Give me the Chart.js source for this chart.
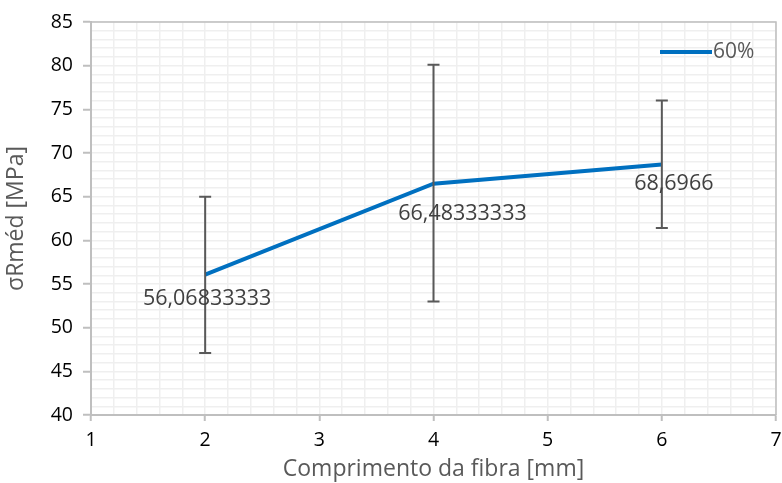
<!DOCTYPE html>
<html>
<head>
<meta charset="utf-8">
<script src="https://cdn.jsdelivr.net/npm/chart.js@4"></script>
<style>
  html, body { margin: 0; padding: 0; background: #fff; }
  #wrap { width: 782px; height: 483px; }
</style>
</head>
<body>
<div id="wrap"><canvas id="theChart" width="782" height="483"></canvas></div>
<script>
// data
const fibreLength = [2, 4, 6];
const meanStrength = [56.06833333, 66.48333333, 68.6966];
const errLow = [47.1, 53.0, 61.4];
const errHigh = [65.0, 80.1, 76.0];
const seriesName = '60%';

const labelOffsets = [[2, 24], [29, 30], [12, 19]]; // px, where Excel put the labels

function isWhole(v, step) {
  const q = v / step;
  return Math.abs(q - Math.round(q)) < 1e-6;
}

// error bars + data labels + legend + plot border
const extras = {
  id: 'extras',
  afterDatasetsDraw(chart) {
    const ctx = chart.ctx;
    const x = chart.scales.x, y = chart.scales.y;
    const area = chart.chartArea;

    ctx.save();
    ctx.strokeStyle = '#bfbfbf';
    ctx.lineWidth = 1.5;
    ctx.beginPath();
    ctx.moveTo(area.left, area.top);
    ctx.lineTo(area.right, area.top);
    ctx.lineTo(area.right, area.bottom);
    ctx.stroke();

    ctx.strokeStyle = '#595959';
    ctx.lineWidth = 2;
    for (let i = 0; i < fibreLength.length; i++) {
      const px = x.getPixelForValue(fibreLength[i]);
      const top = y.getPixelForValue(errHigh[i]);
      const bot = y.getPixelForValue(errLow[i]);
      ctx.beginPath();
      ctx.moveTo(px, top); ctx.lineTo(px, bot);
      ctx.moveTo(px - 6, top); ctx.lineTo(px + 6, top);
      ctx.moveTo(px - 6, bot); ctx.lineTo(px + 6, bot);
      ctx.stroke();
    }

    ctx.fillStyle = '#404040';
    ctx.font = '21.5px "Open Sans"';
    ctx.textAlign = 'center';
    ctx.textBaseline = 'middle';
    for (let i = 0; i < meanStrength.length; i++) {
      const px = x.getPixelForValue(fibreLength[i]);
      const py = y.getPixelForValue(meanStrength[i]);
      const txt = String(meanStrength[i]).replace('.', ',');
      ctx.fillText(txt, px + labelOffsets[i][0], py + labelOffsets[i][1]);
    }

    // legend
    ctx.strokeStyle = '#0070c0';
    ctx.lineWidth = 4;
    ctx.beginPath();
    ctx.moveTo(660, 52); ctx.lineTo(712, 52);
    ctx.stroke();
    ctx.fillStyle = '#595959';
    ctx.font = '21px "Open Sans"';
    ctx.textAlign = 'left';
    ctx.fillText(seriesName, 713, 52);
    ctx.restore();
  }
};

new Chart(document.getElementById('theChart').getContext('2d'), {
  type: 'line',
  data: {
    datasets: [{
      label: seriesName,
      data: fibreLength.map((v, i) => ({ x: v, y: meanStrength[i] })),
      borderColor: '#0070c0',
      borderWidth: 4,
      pointRadius: 0,
      fill: false,
      tension: 0
    }]
  },
  options: {
    responsive: false,
    animation: false,
    layout: { padding: { top: 22, right: 6, left: 0, bottom: 0 } },
    plugins: { legend: { display: false }, tooltip: { enabled: false } },
    scales: {
      x: {
        type: 'linear',
        min: 1, max: 7,
        ticks: {
          stepSize: 0.2,
          autoSkip: false,
          maxRotation: 0,
          color: '#000',
          font: { family: 'Open Sans', size: 19.5 },
          padding: 8,
          callback: v => isWhole(v, 1) ? String(Math.round(v)) : ''
        },
        grid: {
          color: '#efefef',
          lineWidth: 1.5,
          tickLength: 6,
          tickColor: c => isWhole(c.tick.value, 1) ? '#bfbfbf' : 'rgba(0,0,0,0)',
          tickWidth: 2
        },
        border: { color: '#bfbfbf', width: 2 },
        title: {
          display: true,
          text: 'Comprimento da fibra [mm]',
          color: '#595959',
          font: { family: 'Open Sans', size: 23 },
          padding: { top: -6, bottom: 0 }
        },
        afterFit: s => { s.height = 68; s.paddingLeft = 0; s.paddingRight = 0; }
      },
      y: {
        min: 40, max: 85,
        ticks: {
          stepSize: 1,
          autoSkip: false,
          color: '#000',
          font: { family: 'Open Sans', size: 19.5 },
          padding: 10,
          callback: v => isWhole(v, 5) ? String(Math.round(v)) : ''
        },
        grid: {
          color: '#efefef',
          lineWidth: 1.5,
          tickLength: 8,
          tickColor: c => isWhole(c.tick.value, 5) ? '#bfbfbf' : 'rgba(0,0,0,0)',
          tickWidth: 2
        },
        border: { color: '#bfbfbf', width: 2 },
        title: {
          display: true,
          text: 'σRméd [MPa]',
          color: '#595959',
          font: { family: 'Open Sans', size: 23 },
          padding: { top: 3, bottom: 0 }
        },
        afterFit: s => { s.width = 91; s.paddingTop = 0; s.paddingBottom = 0; }
      }
    }
  },
  plugins: [extras]
});
</script>
</body>
</html>
